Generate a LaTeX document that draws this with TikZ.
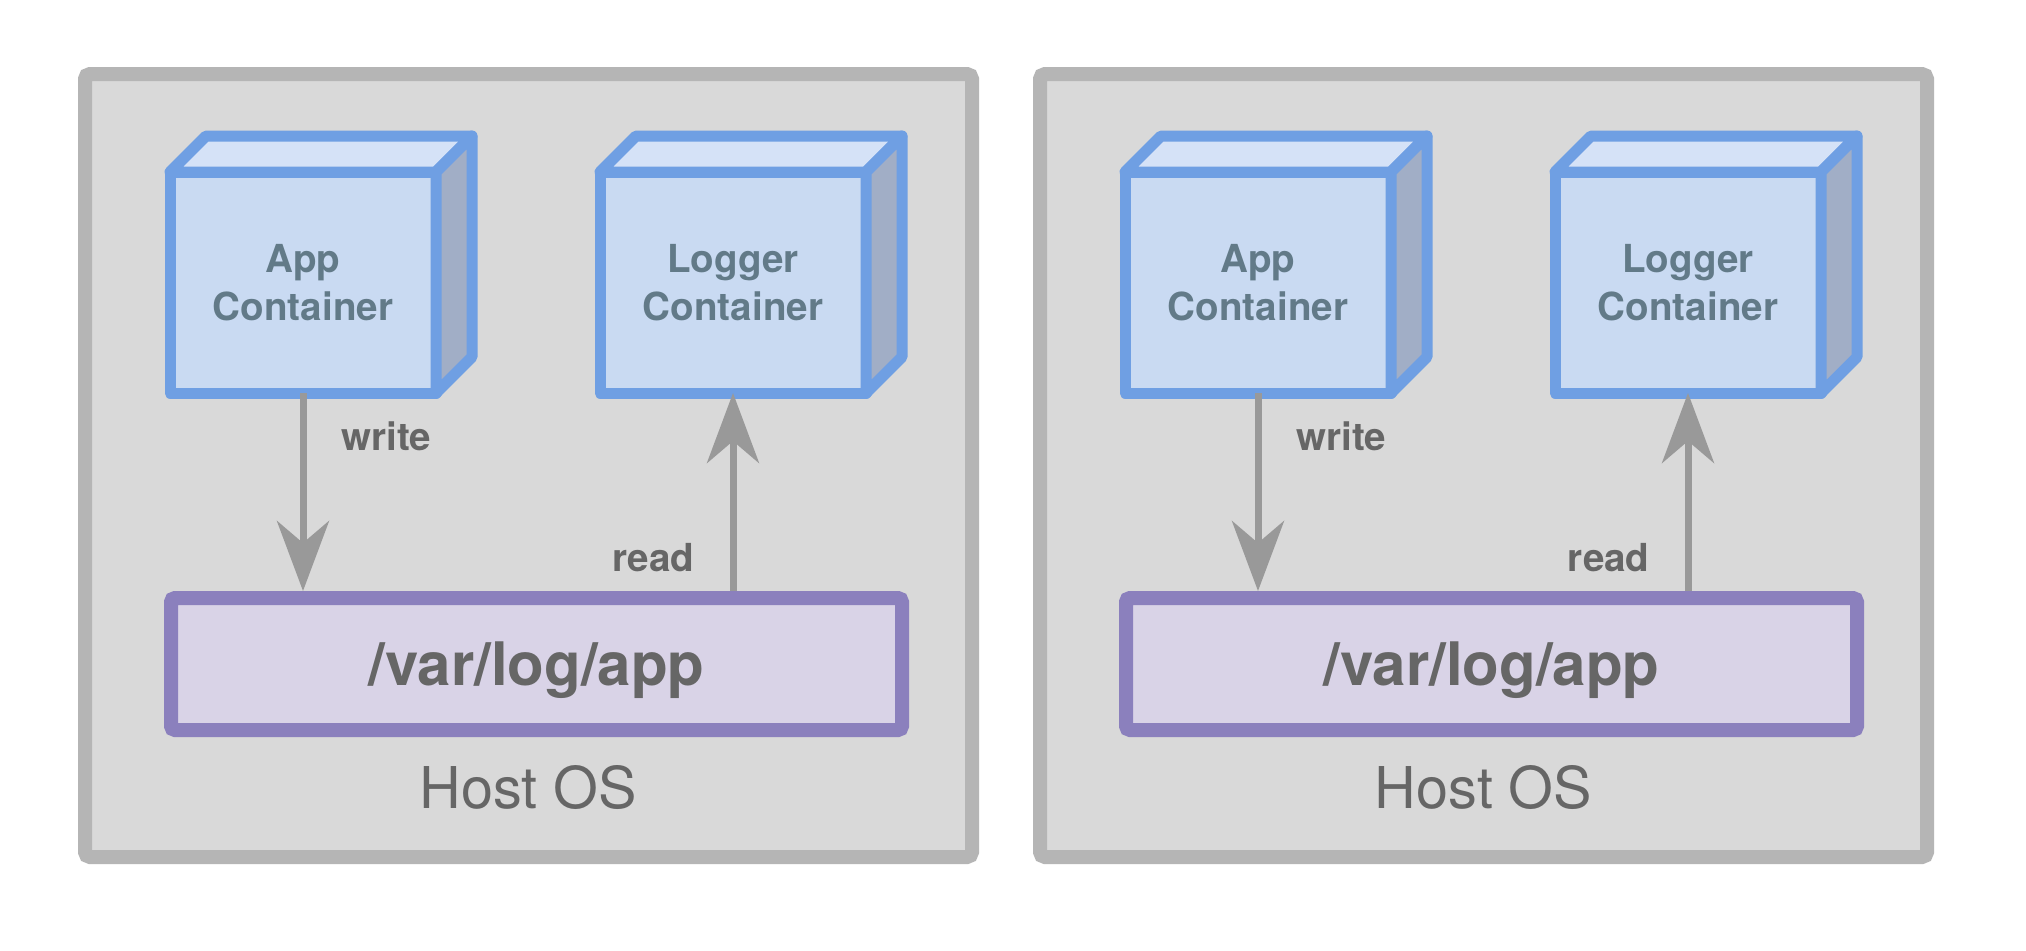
\documentclass[tikz,border=0pt]{standalone}
\usepackage{fontspec}
\setmainfont{TeX Gyre Heros}
\usetikzlibrary{arrows.meta}

\definecolor{hostfill}{HTML}{D9D9D9}
\definecolor{hostline}{HTML}{B5B5B5}
\definecolor{cubeline}{HTML}{6F9FE3}
\definecolor{cubefront}{HTML}{C9DAF2}
\definecolor{cubetop}{HTML}{D5E2F7}
\definecolor{cubeside}{HTML}{A1AEC6}
\definecolor{cubetext}{HTML}{627A88}
\definecolor{logline}{HTML}{8B80BD}
\definecolor{logfill}{HTML}{D9D3E7}
\definecolor{flowgrey}{HTML}{999999}
\definecolor{labelgrey}{HTML}{666666}

\begin{document}
\begin{tikzpicture}[x=0.5pt,y=-0.5pt,
    host/.style={draw=hostline,fill=hostfill,line width=7pt,rounded corners=2.5pt,
      minimum width=443.5pt,minimum height=391.5pt,inner sep=0pt},
    front/.style={draw=cubeline,fill=cubefront,line width=5.5pt,line join=round,
      minimum width=133pt,minimum height=110.5pt,inner sep=0pt,outer sep=0pt,
      align=center,text=cubetext,font=\fontsize{19.3}{24}\selectfont\bfseries},
    face/.style={draw=cubeline,line width=5.5pt,line join=round},
    logbox/.style={draw=logline,fill=logfill,line width=7pt,rounded corners=2pt,
      minimum width=365.5pt,minimum height=66pt,inner sep=0pt,text depth=0pt,
      text=labelgrey,font=\fontsize{30}{36}\selectfont\bfseries},
    flow/.style={draw=flowgrey,line width=3.5pt,-{Stealth[length=35pt,width=26pt,inset=11pt]}},
    lbl/.style={inner sep=0pt,text=labelgrey,font=\fontsize{19.3}{24}\selectfont\bfseries},
    oslbl/.style={inner sep=0pt,text=labelgrey,font=\fontsize{28.8}{34}\selectfont}]
  \useasboundingbox[fill=white] (0,0) rectangle (2026,950);
  \foreach \dx/\p in {0/a,955/b} {%
    \begin{scope}[shift={(\dx,0)}]
      \node[host] (host\p) at (528.5,465.5) {};
      \node[oslbl,anchor=base] (os\p) at (528.5,808) {Host OS};
      % the two containers
      \node[front] (app\p) at (303,282.5) {App\\Container};
      \node[front] (logger\p) at (733,282.5) {Logger\\Container};
      \foreach \c in {app\p,logger\p} {%
        \draw[face,fill=cubetop] (\c.north west) -- ++(36,-36) -- ++(266,0) -- (\c.north east) -- cycle;
        \draw[face,fill=cubeside] (\c.north east) -- ++(36,-36) -- ++(0,221) -- (\c.south east) -- cycle;
      }
      \node[logbox] (log\p) at (536.5,664) {/var/log/app};
      \draw[flow] (app\p.south) -- (app\p.south |- log\p.north)
        node[lbl,pos=0.22,anchor=west,xshift=17.5pt] {write};
      \draw[flow] (logger\p.south |- log\p.north) -- (logger\p.south)
        node[lbl,pos=0.17,anchor=east,xshift=-17.5pt] {read};
    \end{scope}
  }
\end{tikzpicture}
\end{document}
